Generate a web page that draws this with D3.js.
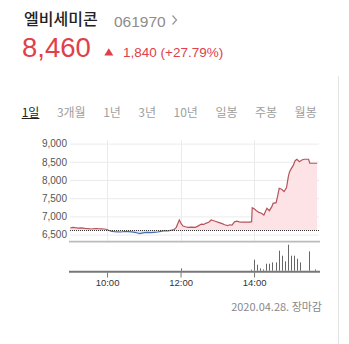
<!DOCTYPE html>
<html>
<head>
<meta charset="utf-8">
<script src="https://cdn.jsdelivr.net/npm/d3@7"></script>
<style>
  body { margin: 0; background: #fff; }
  svg { display: block; font-family: "Liberation Sans", "Noto Sans CJK KR", sans-serif; }
</style>
</head>
<body>
<svg id="chart" width="349" height="344"></svg>
<script>
// ** DATA ** //
const stockName = "엘비세미콘";
const stockCode = "061970";
const lastPrice = 8460;
const change = 1840;
const changePct = 27.79;
const prevClose = 6620;
const dateLabel = "2020.04.28. 장마감";
const tabs = ["1일", "3개월", "1년", "3년", "10년", "일봉", "주봉", "월봉"];

const priceTimes = [
  "09:00", "09:04", "09:08", "09:13", "09:18", "09:24", "09:29", "09:34", "09:40", "09:45",
  "09:50", "09:56", "10:00", "10:04", "10:08", "10:12", "10:17", "10:23", "10:28", "10:34",
  "10:40", "10:45", "10:50", "10:53", "10:57", "11:01", "11:06", "11:12", "11:17", "11:23",
  "11:28", "11:34", "11:38", "11:42", "11:46", "11:49", "11:53", "11:58", "12:01", "12:04",
  "12:08", "12:12", "12:18", "12:24", "12:29", "12:34", "12:38", "12:41", "12:46", "12:50",
  "12:54", "12:58", "13:03", "13:08", "13:12", "13:17", "13:20", "13:24", "13:28", "13:32",
  "13:36", "13:40", "13:47", "13:53", "13:56", "13:57", "14:00", "14:04", "14:08", "14:12",
  "14:16", "14:19", "14:21", "14:25", "14:29", "14:31", "14:36", "14:39", "14:41", "14:45",
  "14:49", "14:53", "14:56", "14:58", "15:01", "15:04", "15:07", "15:10", "15:14", "15:18",
  "15:22", "15:26", "15:29", "15:31", "15:43"
];
const priceValues = [
  6680, 6700, 6690, 6680, 6685, 6673, 6665, 6654, 6668, 6662,
  6660, 6654, 6640, 6608, 6590, 6580, 6575, 6571, 6585, 6580,
  6575, 6563, 6545, 6525, 6540, 6552, 6560, 6552, 6560, 6571,
  6590, 6608, 6600, 6608, 6625, 6635, 6700, 6900, 6800, 6736,
  6715, 6700, 6705, 6700, 6740, 6790, 6780, 6810, 6840, 6900,
  6880, 6860, 6830, 6800, 6770, 6745, 6770, 6760, 6850, 6870,
  6850, 6845, 6845, 6845, 6855, 7240, 7210, 7157, 7110, 7085,
  7038, 7150, 7222, 7157, 7267, 7360, 7376, 7600, 7772, 7745,
  7680, 7790, 8100, 8228, 8320, 8400, 8530, 8570, 8503, 8550,
  8570, 8570, 8570, 8460, 8460
];

const volumeTimes = [
  "12:00", "13:55", "14:00", "14:05", "14:10", "14:15", "14:20", "14:25", "14:30", "14:35",
  "14:40", "14:45", "14:50", "14:55", "15:00", "15:05", "15:10", "15:15", "15:30", "15:40"
];
const volumeValues = [
  23000, 10000, 110000, 60000, 23000, 13000, 70000, 70000, 83000, 83000,
  200000, 150000, 93000, 260000, 150000, 150000, 120000, 83000, 193000, 13000
];

const yTicks = [6500, 7000, 7500, 8000, 8500, 9000];
const xTicks = ["10:00", "12:00", "14:00"];

// ** SETUP ** //
const svg = d3.select("#chart");
const parseTime = d3.timeParse("%H:%M");
const red = "#e0404a";

const prices = priceTimes.map((t, i) => ({ t: parseTime(t), v: priceValues[i] }));
const volumes = volumeTimes.map((t, i) => ({ t: parseTime(t), v: volumeValues[i] }));

const x = d3.scaleTime()
  .domain([parseTime("09:00"), parseTime("15:46")])
  .range([70.3, 319]);
const y = d3.scaleLinear().domain([6500, 9000]).range([234.6, 143.6]);
const vy = d3.scaleLinear().domain([0, 300000]).range([270.7, 240.7]);

// ** HEADER ** //
svg.append("text")
  .attr("x", 24).attr("y", 25)
  .attr("font-family", "Noto Sans CJK KR")
  .attr("font-size", 16).attr("font-weight", 500)
  .attr("fill", "#222")
  .text(stockName);

svg.append("text")
  .attr("x", 114).attr("y", 26.5)
  .attr("font-size", 15.5).attr("fill", "#8c8c8c")
  .text(stockCode);

svg.append("path")
  .attr("d", "M172.5,15.5 L176.5,20 L172.5,24.5")
  .attr("fill", "none").attr("stroke", "#999").attr("stroke-width", 1.3);

svg.append("text")
  .attr("x", 22).attr("y", 57)
  .attr("font-size", 27.5).attr("fill", red)
  .text(d3.format(",")(lastPrice));

svg.append("path")
  .attr("d", "M104.3,55.5 L108.8,48.3 L113.3,55.5 Z")
  .attr("fill", red);

svg.append("text")
  .attr("x", 123).attr("y", 56.7)
  .attr("font-size", 13.5).attr("fill", red)
  .text(`${d3.format(",")(change)} (+${changePct}%)`);

// ** TABS ** //
let tabCursor = 21.7;
tabs.forEach((label, i) => {
  const t = svg.append("text")
    .attr("x", tabCursor).attr("y", 116.5)
    .attr("font-family", "Noto Sans CJK KR")
    .attr("font-size", 12)
    .attr("fill", i === 0 ? "#222" : "#a0a0a0")
    .text(label);
  const w = t.node().getComputedTextLength();
  if (i === 0) {
    svg.append("line")
      .attr("x1", tabCursor).attr("x2", tabCursor + w)
      .attr("y1", 118.5).attr("y2", 118.5)
      .attr("stroke", "#222").attr("stroke-width", 1);
  }
  tabCursor += w + 17.5;
});

// right border line
svg.append("line")
  .attr("x1", 338.5).attr("x2", 338.5)
  .attr("y1", 76).attr("y2", 344)
  .attr("stroke", "#e4e4e4");

// ** PRICE CHART ** //
const yAxis = svg.append("g")
  .attr("transform", "translate(70,0)")
  .call(d3.axisLeft(y).tickValues(yTicks).tickSize(-249).tickPadding(3).tickFormat(d3.format(",")));
yAxis.select(".domain").remove();
yAxis.selectAll(".tick line").attr("stroke", "#ebebeb");
yAxis.selectAll(".tick text")
  .attr("font-family", "Liberation Sans")
  .attr("font-size", 10).attr("fill", "#555");

svg.append("g")
  .selectAll("line")
  .data(xTicks.map(parseTime))
  .enter()
  .append("line")
  .attr("x1", d => Math.round(x(d)) + 0.5)
  .attr("x2", d => Math.round(x(d)) + 0.5)
  .attr("y1", 140).attr("y2", 241)
  .attr("stroke", "#ebebeb");

const defs = svg.append("defs");
defs.append("clipPath").attr("id", "clip-up")
  .append("rect").attr("x", 0).attr("y", 0).attr("width", 349).attr("height", y(prevClose));
defs.append("clipPath").attr("id", "clip-down")
  .append("rect").attr("x", 0).attr("y", y(prevClose)).attr("width", 349).attr("height", 100);

const area = d3.area()
  .x(d => x(d.t))
  .y0(y(prevClose))
  .y1(d => y(d.v));
const line = d3.line()
  .x(d => x(d.t))
  .y(d => y(d.v));

const sides = [
  { clip: "clip-up", fill: "#fde3e5", stroke: "#b4545b" },
  { clip: "clip-down", fill: "#d9e6f8", stroke: "#4a6db3" }
];
sides.forEach(s => {
  const g = svg.append("g").attr("clip-path", `url(#${s.clip})`);
  g.append("path").datum(prices).attr("d", area).attr("fill", s.fill);
  g.append("path").datum(prices).attr("d", line)
    .attr("fill", "none").attr("stroke", s.stroke).attr("stroke-width", 1.2);
});

// previous close
svg.append("line")
  .attr("x1", 70).attr("x2", 319)
  .attr("y1", Math.round(y(prevClose)) + 0.5).attr("y2", Math.round(y(prevClose)) + 0.5)
  .attr("stroke", "#333").attr("stroke-dasharray", "1,1");

// ** VOLUME CHART ** //
svg.append("line")
  .attr("x1", 69).attr("x2", 320)
  .attr("y1", 241.7).attr("y2", 241.7)
  .attr("stroke", "#bbb").attr("stroke-width", 1.8);

svg.append("g")
  .selectAll("line")
  .data(volumes)
  .enter()
  .append("line")
  .attr("x1", d => Math.round(x(d.t)) + 0.5)
  .attr("x2", d => Math.round(x(d.t)) + 0.5)
  .attr("y1", vy(0))
  .attr("y2", d => vy(d.v))
  .attr("stroke", "#666");

const xAxis = svg.append("g")
  .attr("transform", "translate(0,272.5)")
  .call(d3.axisBottom(x).tickValues(xTicks.map(parseTime)).tickSize(5).tickFormat(d3.timeFormat("%H:%M")));
xAxis.select(".domain").remove();
xAxis.selectAll(".tick line").attr("stroke", "#777");
xAxis.selectAll(".tick text")
  .attr("y", 13.8).attr("dy", 0)
  .attr("font-family", "Liberation Sans")
  .attr("font-size", 9.5).attr("fill", "#333");

svg.append("line")
  .attr("x1", 69).attr("x2", 320)
  .attr("y1", 271.7).attr("y2", 271.7)
  .attr("stroke", "#777").attr("stroke-width", 2);

// ** FOOTER ** //
svg.append("text")
  .attr("x", 322).attr("y", 310.5)
  .attr("text-anchor", "end")
  .attr("font-family", "Noto Sans CJK KR")
  .attr("font-size", 11).attr("fill", "#888")
  .text(dateLabel);
</script>
</body>
</html>
